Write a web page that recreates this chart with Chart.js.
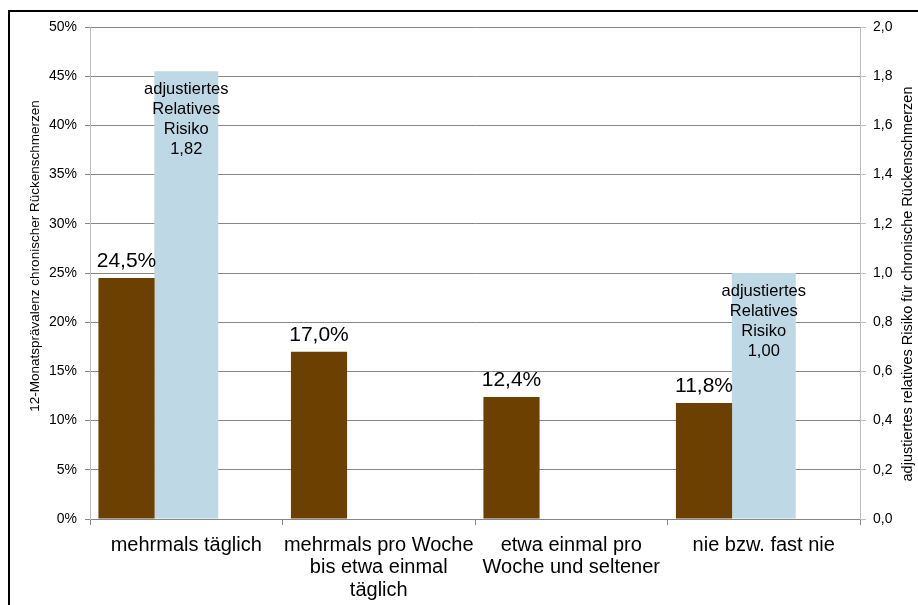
<!DOCTYPE html>
<html>
<head>
<meta charset="utf-8">
<script src="https://cdn.jsdelivr.net/npm/chart.js@4.4.1/dist/chart.umd.min.js"></script>
<style>
  html, body { margin: 0; padding: 0; background: #fff; overflow: hidden; }
  #wrap { position: relative; width: 918px; height: 605px; }
  #chart { position: absolute; left: 0; top: 0; }
  #frame { position: absolute; left: 8px; top: 10px; width: 940px; height: 640px;
           border-left: 2px solid #000; border-top: 2px solid #000; pointer-events: none; }
</style>
</head>
<body>
<div id="wrap">
  <canvas id="chart" width="918" height="605"></canvas>
  <div id="frame"></div>
</div>
<script>
/* Rückenschmerzen chart — prevalence (left axis) and adjusted relative risk (right axis) */

var CATEGORIES = [
  'mehrmals täglich',
  ['mehrmals pro Woche', 'bis etwa einmal', 'täglich'],
  ['etwa einmal pro', 'Woche und seltener'],
  'nie bzw. fast nie'
];
var PREVALENCE = [24.5, 17.0, 12.4, 11.8];          // %
var RISK       = [1.82, null, null, 1.00];          // adjustiertes relatives Risiko
var SPACER     = [null, null, null, null];          // empty third slot (keeps bar group left of centre)
var RISK_LINES = ['adjustiertes', 'Relatives', 'Risiko'];

var LEFT_TITLE  = '12-Monatsprävalenz chronischer Rückenschmerzen';
var RIGHT_TITLE = 'adjustiertes relatives Risiko für chronische Rückenschmerzen';

var FONT = "'Liberation Sans', Arial, sans-serif";
var BROWN = '#6B4000';
var BLUE  = '#BFD8E5';
var GRID  = '#878787';
var AXIS  = '#BEBEBE';

function comma(v, d) { return v.toFixed(d).replace('.', ','); }

var labelPlugin = {
  id: 'labels',
  afterDatasetsDraw: function(chart) {
    var ctx = chart.ctx;
    ctx.save();
    ctx.fillStyle = '#000';
    ctx.textAlign = 'center';

    // prevalence values above brown bars
    ctx.font = '21px ' + FONT;
    ctx.textBaseline = 'alphabetic';
    chart.getDatasetMeta(0).data.forEach(function(el, i) {
      ctx.fillText(comma(PREVALENCE[i], 1) + '%', el.x, el.y - 11);
    });

    // relative risk text inside blue bars
    ctx.font = '16.5px ' + FONT;
    ctx.textBaseline = 'middle';
    chart.getDatasetMeta(1).data.forEach(function(el, i) {
      if (RISK[i] == null) return;
      var lines = RISK_LINES.concat([comma(RISK[i], 2)]);
      for (var k = 0; k < lines.length; k++) {
        ctx.fillText(lines[k], el.x, el.y + 18 + k * 20);
      }
    });

    // axis titles, both reading bottom-to-top
    ctx.font = '13.5px ' + FONT;
    ctx.translate(35, 256);
    ctx.rotate(-Math.PI / 2);
    ctx.fillText(LEFT_TITLE, 0, 0);
    ctx.setTransform(1, 0, 0, 1, 0, 0);
    ctx.font = '14.5px ' + FONT;
    ctx.translate(908, 284);
    ctx.rotate(-Math.PI / 2);
    ctx.fillText(RIGHT_TITLE, 0, 0);
    ctx.restore();
  }
};

new Chart(document.getElementById('chart'), {
  type: 'bar',
  data: {
    labels: CATEGORIES,
    datasets: [
      { data: PREVALENCE, backgroundColor: BROWN, yAxisID: 'y', barPercentage: 0.94, categoryPercentage: 0.931, borderWidth: 0 },
      { data: RISK, backgroundColor: BLUE, yAxisID: 'y1', barPercentage: 1.07, categoryPercentage: 0.931, borderWidth: 0 },
      { data: SPACER, backgroundColor: 'rgba(0,0,0,0)', yAxisID: 'y', barPercentage: 1, categoryPercentage: 0.931 }
    ]
  },
  options: {
    responsive: false,
    animation: false,
    layout: { padding: { top: 27, left: 0, right: 0, bottom: 0 } },
    plugins: { legend: { display: false }, tooltip: { enabled: false } },
    scales: {
      x: {
        afterFit: function(s) { s.height = 86; },
        grid: { display: true, offset: true, drawOnChartArea: false, drawTicks: true, tickLength: 6, color: GRID, tickColor: GRID },
        border: { display: true, color: GRID },
        ticks: { color: '#000', font: { family: FONT, size: 20, lineHeight: 1.125 }, padding: 9, maxRotation: 0, autoSkip: false }
      },
      y: {
        position: 'left',
        min: 0, max: 50,
        afterFit: function(s) { s.width = 90; },
        grid: { color: GRID, tickColor: GRID, tickLength: 5 },
        border: { display: true, color: AXIS },
        ticks: { stepSize: 5, color: '#000', font: { family: FONT, size: 14 }, padding: 8,
                 callback: function(v) { return v + '%'; } }
      },
      y1: {
        position: 'right',
        min: 0, max: 2,
        afterFit: function(s) { s.width = 58; },
        grid: { drawOnChartArea: false, tickColor: AXIS, tickLength: 6 },
        border: { display: true, color: AXIS },
        ticks: { stepSize: 0.2, color: '#000', font: { family: FONT, size: 14 }, padding: 7,
                 callback: function(v) { return comma(v, 1); } }
      }
    }
  },
  plugins: [labelPlugin]
});
</script>
</body>
</html>
